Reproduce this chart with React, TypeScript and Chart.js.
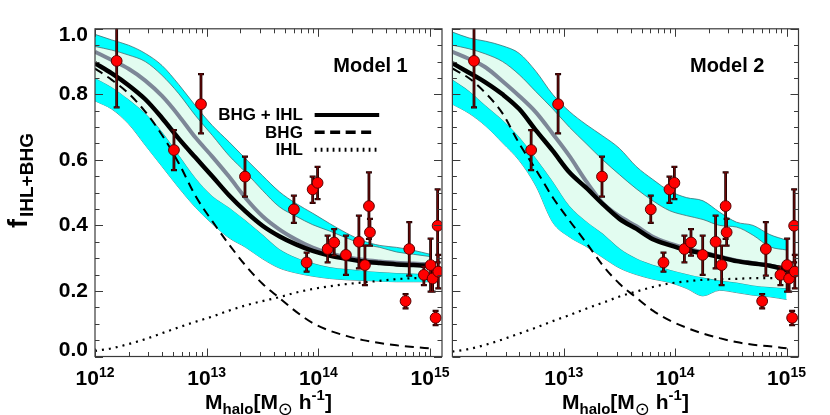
import React, { useEffect, useRef } from "react";
import { Chart, registerables } from "chart.js";
Chart.register(...registerables);

// ---------- data ----------
const LOG_MASS_GRID = [12.0, 12.15, 12.3, 12.45, 12.6, 12.75, 12.9, 13.05, 13.2, 13.35, 13.5, 13.65, 13.8, 13.95, 14.1, 14.25, 14.4, 14.55, 14.7, 14.85, 15.0];

// Model 1
const M1_TOTAL = [0.895, 0.864, 0.828, 0.785, 0.728, 0.665, 0.607, 0.55, 0.492, 0.442, 0.399, 0.367, 0.342, 0.322, 0.308, 0.298, 0.29, 0.285, 0.281, 0.279, 0.277];
const M1_GRAY = [0.93, 0.905, 0.878, 0.842, 0.795, 0.735, 0.668, 0.61, 0.549, 0.483, 0.428, 0.388, 0.357, 0.332, 0.315, 0.303, 0.295, 0.29, 0.286, 0.284, 0.281];
const M1_BHG = [0.879, 0.844, 0.803, 0.747, 0.676, 0.59, 0.49, 0.413, 0.342, 0.277, 0.222, 0.179, 0.137, 0.102, 0.079, 0.063, 0.05, 0.041, 0.034, 0.029, 0.025];
const M1_IHL = [0.017, 0.025, 0.038, 0.053, 0.071, 0.089, 0.106, 0.122, 0.14, 0.156, 0.169, 0.181, 0.195, 0.206, 0.214, 0.221, 0.226, 0.231, 0.236, 0.239, 0.241];
const M1_OUT_HI = [0.983, 0.966, 0.95, 0.925, 0.888, 0.83, 0.765, 0.705, 0.655, 0.603, 0.552, 0.503, 0.467, 0.437, 0.406, 0.377, 0.353, 0.339, 0.333, 0.324, 0.312];
const M1_IN_HI = [0.946, 0.935, 0.92, 0.9, 0.858, 0.802, 0.735, 0.675, 0.613, 0.562, 0.507, 0.457, 0.428, 0.402, 0.383, 0.362, 0.343, 0.333, 0.319, 0.312, 0.305];
const M1_IN_LO = [0.85, 0.822, 0.785, 0.742, 0.686, 0.615, 0.545, 0.49, 0.455, 0.415, 0.372, 0.328, 0.302, 0.285, 0.273, 0.267, 0.262, 0.258, 0.255, 0.253, 0.25];
const M1_OUT_LO = [0.78, 0.755, 0.71, 0.645, 0.58, 0.515, 0.455, 0.405, 0.362, 0.333, 0.298, 0.27, 0.255, 0.245, 0.238, 0.234, 0.232, 0.23, 0.228, 0.228, 0.228];

// Model 2
const M2_TOTAL = [0.895, 0.866, 0.836, 0.8, 0.755, 0.69, 0.628, 0.562, 0.515, 0.465, 0.42, 0.39, 0.358, 0.34, 0.325, 0.315, 0.303, 0.291, 0.284, 0.277, 0.264];
const M2_GRAY = [0.93, 0.908, 0.882, 0.84, 0.795, 0.745, 0.68, 0.612, 0.535, 0.468, 0.428, 0.398, 0.365, 0.345, 0.33, 0.318, 0.305, 0.293, 0.285, 0.278, 0.265];
const M2_BHG = [0.879, 0.849, 0.803, 0.742, 0.65, 0.57, 0.486, 0.415, 0.348, 0.278, 0.222, 0.18, 0.14, 0.11, 0.088, 0.07, 0.056, 0.044, 0.036, 0.031, 0.025];
const M2_IHL = [0.015, 0.023, 0.036, 0.052, 0.07, 0.088, 0.108, 0.126, 0.146, 0.164, 0.183, 0.198, 0.212, 0.223, 0.229, 0.234, 0.236, 0.237, 0.239, 0.239, 0.24];
const M2_OUT_HI = [0.99, 0.972, 0.962, 0.948, 0.925, 0.87, 0.8, 0.748, 0.708, 0.673, 0.635, 0.58, 0.54, 0.505, 0.485, 0.475, 0.44, 0.41, 0.4, 0.372, 0.355];
const M2_IN_HI = [0.95, 0.939, 0.923, 0.9, 0.86, 0.808, 0.756, 0.7, 0.65, 0.6, 0.555, 0.512, 0.475, 0.445, 0.43, 0.418, 0.4, 0.395, 0.37, 0.335, 0.325];
const M2_IN_LO = [0.845, 0.81, 0.765, 0.722, 0.67, 0.605, 0.535, 0.46, 0.413, 0.375, 0.33, 0.3, 0.28, 0.265, 0.252, 0.241, 0.232, 0.226, 0.217, 0.212, 0.208];
const M2_OUT_LO = [0.77, 0.742, 0.703, 0.652, 0.598, 0.52, 0.41, 0.365, 0.336, 0.302, 0.27, 0.25, 0.236, 0.226, 0.208, 0.185, 0.202, 0.195, 0.187, 0.182, 0.174];

// Observations (same in both panels)
const OBS_LOGM = [12.194, 12.707, 12.949, 13.343, 13.781, 13.895, 13.949, 13.993, 14.083, 14.142, 14.247, 14.363, 14.417, 14.453, 14.462, 14.781, 14.814, 14.945, 15.005, 15.023, 15.05, 15.068, 15.074];
const OBS_F = [0.902, 0.63, 0.77, 0.549, 0.449, 0.287, 0.51, 0.53, 0.328, 0.348, 0.31, 0.35, 0.279, 0.459, 0.379, 0.169, 0.328, 0.249, 0.279, 0.238, 0.118, 0.399, 0.259];
const OBS_LO = [0.76, 0.569, 0.681, 0.488, 0.408, 0.259, 0.469, 0.48, 0.287, 0.308, 0.249, 0.269, 0.218, 0.359, 0.338, 0.147, 0.247, 0.218, 0.198, 0.198, 0.096, 0.287, 0.208];
const OBS_HI = [1.044, 0.691, 0.862, 0.61, 0.491, 0.317, 0.549, 0.579, 0.369, 0.389, 0.369, 0.43, 0.338, 0.562, 0.42, 0.19, 0.41, 0.274, 0.36, 0.279, 0.139, 0.51, 0.31];

// Axis ticks
const X_MIN = 1e12;
const X_MAX = 1.28e15;
const X_DECADES = [12, 13, 14, 15];
const LEFT_X_LABEL_EXP = [12, 13, 14, 15];
const RIGHT_X_LABEL_EXP = [13, 14, 15];
const Y_TICK_VALUES = [0, 0.2, 0.4, 0.6, 0.8, 1.0];
const Y_TICK_LABELS = ["0.0", "0.2", "0.4", "0.6", "0.8", "1.0"];
const LEGEND_LABELS = ["BHG + IHL", "BHG", "IHL"];

// ---------- styles ----------
const FONT = '"Liberation Sans", Arial, Helvetica, sans-serif';
const CYAN = "#00ffff";
const MINT = "#e2fcf0";
const EDGE = "#3f6f73";
const GRAY = "#7d8797";

const toPts = (arr: number[]) => LOG_MASS_GRID.map((lg, i) => ({ x: Math.pow(10, lg), y: arr[i] }));

function buildDatasets(total: number[], gray: number[], bhg: number[], ihl: number[], outHi: number[], inHi: number[], inLo: number[], outLo: number[]) {
  const base = { pointRadius: 0, cubicInterpolationMode: "monotone" as const, fill: false };
  return [
    {
      data: OBS_LOGM.map((lg, i) => ({ x: Math.pow(10, lg), y: OBS_F[i] })),
      showLine: false,
      pointRadius: 5.4,
      pointBackgroundColor: "#ff0000",
      pointBorderColor: "#5a0000",
      pointBorderWidth: 1,
      clip: 0,
    },
    { ...base, data: toPts(total), borderColor: "#000000", borderWidth: 4.5 },
    { ...base, data: toPts(gray), borderColor: GRAY, borderWidth: 4 },
    { ...base, data: toPts(bhg), borderColor: "#000000", borderWidth: 2, borderDash: [9, 6] },
    { ...base, data: toPts(ihl), borderColor: "#000000", borderWidth: 2.2, borderDash: [2, 5] },
    { ...base, data: toPts(inHi), borderColor: EDGE, borderWidth: 0.8, fill: "+1", backgroundColor: MINT },
    { ...base, data: toPts(inLo), borderColor: EDGE, borderWidth: 0.8 },
    { ...base, data: toPts(outHi), borderColor: EDGE, borderWidth: 0.8, fill: "+1", backgroundColor: CYAN },
    { ...base, data: toPts(outLo), borderColor: EDGE, borderWidth: 0.8 },
  ];
}

type DecorOpts = {
  isLeft: boolean;
  model: string;
  xLabelExp: number[];
};

function makeDecor(o: DecorOpts) {
  return {
    id: "decor",
    beforeDatasetDraw(chart: any, args: any) {
      if (args.index !== 0) return;
      const { ctx, chartArea: a } = chart;
      const xs = chart.scales.x;
      const ys = chart.scales.y;
      ctx.save();
      ctx.beginPath();
      ctx.rect(a.left, a.top, a.right - a.left, a.bottom - a.top);
      ctx.clip();
      const passes = [
        { c: "#1a0000", w: 2.8, cap: 3 },
        { c: "#6e0808", w: 1.2, cap: 2.2 },
      ];
      for (const p of passes) {
        ctx.strokeStyle = p.c;
        ctx.lineWidth = p.w;
        ctx.beginPath();
        for (let i = 0; i < OBS_LOGM.length; i++) {
          const px = xs.getPixelForValue(Math.pow(10, OBS_LOGM[i]));
          const y1 = ys.getPixelForValue(OBS_LO[i]);
          const y2 = ys.getPixelForValue(OBS_HI[i]);
          ctx.moveTo(px, y1);
          ctx.lineTo(px, y2);
        }
        ctx.stroke();
        ctx.lineWidth = p.w * 0.8;
        ctx.beginPath();
        for (let i = 0; i < OBS_LOGM.length; i++) {
          const px = xs.getPixelForValue(Math.pow(10, OBS_LOGM[i]));
          const y1 = ys.getPixelForValue(OBS_LO[i]);
          const y2 = ys.getPixelForValue(OBS_HI[i]);
          ctx.moveTo(px - p.cap, y1);
          ctx.lineTo(px + p.cap, y1);
          ctx.moveTo(px - p.cap, y2);
          ctx.lineTo(px + p.cap, y2);
        }
        ctx.stroke();
      }
      ctx.restore();
    },
    afterDraw(chart: any) {
      const { ctx, chartArea: a } = chart;
      const xs = chart.scales.x;
      const ys = chart.scales.y;
      const W = a.right - a.left;
      ctx.save();

      // frame
      ctx.strokeStyle = "#3a3a3a";
      ctx.lineWidth = 1.2;
      ctx.strokeRect(a.left, a.top, W, a.bottom - a.top);

      // ticks (inward, all four sides)
      ctx.lineWidth = 1;
      ctx.beginPath();
      for (const k of X_DECADES) {
        for (let m = 1; m <= 9; m++) {
          const v = m * Math.pow(10, k);
          if (v > X_MAX) break;
          const px = Math.round(xs.getPixelForValue(v)) + 0.5;
          const len = m === 1 ? 8 : 4.5;
          ctx.moveTo(px, a.bottom);
          ctx.lineTo(px, a.bottom - len);
          ctx.moveTo(px, a.top);
          ctx.lineTo(px, a.top + len);
        }
      }
      for (let i = 0; i <= 20; i++) {
        const v = i * 0.05;
        const py = Math.round(ys.getPixelForValue(v)) + 0.5;
        const len = i % 4 === 0 ? 8 : 4.5;
        ctx.moveTo(a.left, py);
        ctx.lineTo(a.left + len, py);
        ctx.moveTo(a.right, py);
        ctx.lineTo(a.right - len, py);
      }
      ctx.stroke();

      ctx.fillStyle = "#000";

      // x tick labels 10^k
      for (const k of o.xLabelExp) {
        const px = xs.getPixelForValue(Math.pow(10, k));
        ctx.font = `bold 21px ${FONT}`;
        const w10 = ctx.measureText("10").width;
        ctx.font = `bold 14px ${FONT}`;
        const ws = ctx.measureText(String(k)).width;
        const x0 = px - (w10 + ws) / 2;
        ctx.textAlign = "left";
        ctx.textBaseline = "alphabetic";
        ctx.font = `bold 21px ${FONT}`;
        ctx.fillText("10", x0, 385);
        ctx.font = `bold 14px ${FONT}`;
        ctx.fillText(String(k), x0 + w10, 377);
      }

      // x title: M_halo[M_sun h^-1]
      const segs = [
        { t: "M", f: `bold 21px ${FONT}`, dy: 0 },
        { t: "halo", f: `bold 15px ${FONT}`, dy: 5 },
        { t: "[M", f: `bold 21px ${FONT}`, dy: 0 },
        { t: "\u2299", f: `18px "DejaVu Sans", ${FONT}`, dy: 6 },
        { t: " h", f: `bold 21px ${FONT}`, dy: 0 },
        { t: "-1", f: `bold 15px ${FONT}`, dy: -8.5 },
        { t: "]", f: `bold 21px ${FONT}`, dy: 0 },
      ];
      let total = 0;
      const widths: number[] = [];
      for (const s of segs) {
        ctx.font = s.f;
        const w = ctx.measureText(s.t).width;
        widths.push(w);
        total += w;
      }
      let cx = (a.left + a.right) / 2 - total / 2;
      ctx.textAlign = "left";
      ctx.textBaseline = "alphabetic";
      segs.forEach((s, i) => {
        ctx.font = s.f;
        ctx.fillText(s.t, cx, 408.5 + s.dy);
        cx += widths[i];
      });

      // model label
      ctx.font = `bold 20px ${FONT}`;
      ctx.textAlign = "center";
      ctx.fillText(o.model, a.left + 0.794 * W, 72);

      if (o.isLeft) {
        // y tick labels
        ctx.font = `bold 21px ${FONT}`;
        ctx.textAlign = "right";
        ctx.textBaseline = "middle";
        Y_TICK_VALUES.forEach((v, i) => {
          let py = ys.getPixelForValue(v);
          py = Math.min(Math.max(py, a.top + 6.5), a.bottom - 6.5);
          ctx.fillText(Y_TICK_LABELS[i], a.left - 7, py);
        });

        // y title f_{IHL+BHG}
        ctx.save();
        ctx.translate(27, 228);
        ctx.rotate(-Math.PI / 2);
        ctx.textAlign = "left";
        ctx.textBaseline = "alphabetic";
        ctx.font = `bold 27px ${FONT}`;
        ctx.fillText("f", 0, 0);
        const fw = ctx.measureText("f").width;
        ctx.font = `bold 19px ${FONT}`;
        ctx.fillText("IHL+BHG", fw + 2, 6);
        ctx.restore();

        // legend
        const tx = a.left + 0.599 * W;
        const lx0 = a.left + 0.633 * W;
        const lx1 = a.left + 0.819 * W;
        const baselines = [120, 137.7, 155];
        const lineYs = [115, 132.3, 149.8];
        ctx.font = `bold 17px ${FONT}`;
        ctx.textAlign = "right";
        ctx.textBaseline = "alphabetic";
        LEGEND_LABELS.forEach((lab, i) => ctx.fillText(lab, tx, baselines[i]));
        ctx.strokeStyle = "#000";
        ctx.lineCap = "butt";
        ctx.lineWidth = 4.2;
        ctx.setLineDash([]);
        ctx.beginPath();
        ctx.moveTo(lx0, lineYs[0]);
        ctx.lineTo(lx1, lineYs[0]);
        ctx.stroke();
        ctx.lineWidth = 3.6;
        ctx.setLineDash([10, 5.5]);
        ctx.beginPath();
        ctx.moveTo(lx0, lineYs[1]);
        ctx.lineTo(lx0 + 57, lineYs[1]);
        ctx.stroke();
        ctx.lineWidth = 4;
        ctx.setLineDash([1.8, 4.2]);
        ctx.beginPath();
        ctx.moveTo(lx0, lineYs[2]);
        ctx.lineTo(lx1, lineYs[2]);
        ctx.stroke();
        ctx.setLineDash([]);
      }
      ctx.restore();
    },
  };
}

function makeConfig(datasets: any[], padding: any, decor: any) {
  return {
    type: "line" as const,
    data: { datasets },
    options: {
      animation: false as const,
      responsive: false,
      devicePixelRatio: 1,
      events: [] as any[],
      layout: { padding },
      scales: {
        x: { type: "logarithmic" as const, min: X_MIN, max: X_MAX, display: false },
        y: { type: "linear" as const, min: 0, max: 1, display: false },
      },
      plugins: { legend: { display: false }, tooltip: { enabled: false } },
    },
    plugins: [decor],
  };
}

export default function App() {
  const leftRef = useRef<HTMLCanvasElement | null>(null);
  const rightRef = useRef<HTMLCanvasElement | null>(null);

  useEffect(() => {
    const c1 = new Chart(
      leftRef.current as HTMLCanvasElement,
      makeConfig(
        buildDatasets(M1_TOTAL, M1_GRAY, M1_BHG, M1_IHL, M1_OUT_HI, M1_IN_HI, M1_IN_LO, M1_OUT_LO),
        { left: 95, right: 13, top: 28.8, bottom: 58.5 },
        makeDecor({ isLeft: true, model: "Model 1", xLabelExp: LEFT_X_LABEL_EXP })
      ) as any
    );
    const c2 = new Chart(
      rightRef.current as HTMLCanvasElement,
      makeConfig(
        buildDatasets(M2_TOTAL, M2_GRAY, M2_BHG, M2_IHL, M2_OUT_HI, M2_IN_HI, M2_IN_LO, M2_OUT_LO),
        { left: 5.6, right: 31.5, top: 28.8, bottom: 58.5 },
        makeDecor({ isLeft: false, model: "Model 2", xLabelExp: RIGHT_X_LABEL_EXP })
      ) as any
    );
    return () => {
      c1.destroy();
      c2.destroy();
    };
  }, []);

  return (
    <div style={{ position: "absolute", left: 0, top: 0, width: 830, height: 415, background: "#fff", overflow: "hidden" }}>
      <canvas ref={leftRef} width={455} height={415} style={{ position: "absolute", left: 0, top: 0, width: 455, height: 415 }} />
      <canvas ref={rightRef} width={384} height={415} style={{ position: "absolute", left: 446, top: 0, width: 384, height: 415 }} />
    </div>
  );
}
